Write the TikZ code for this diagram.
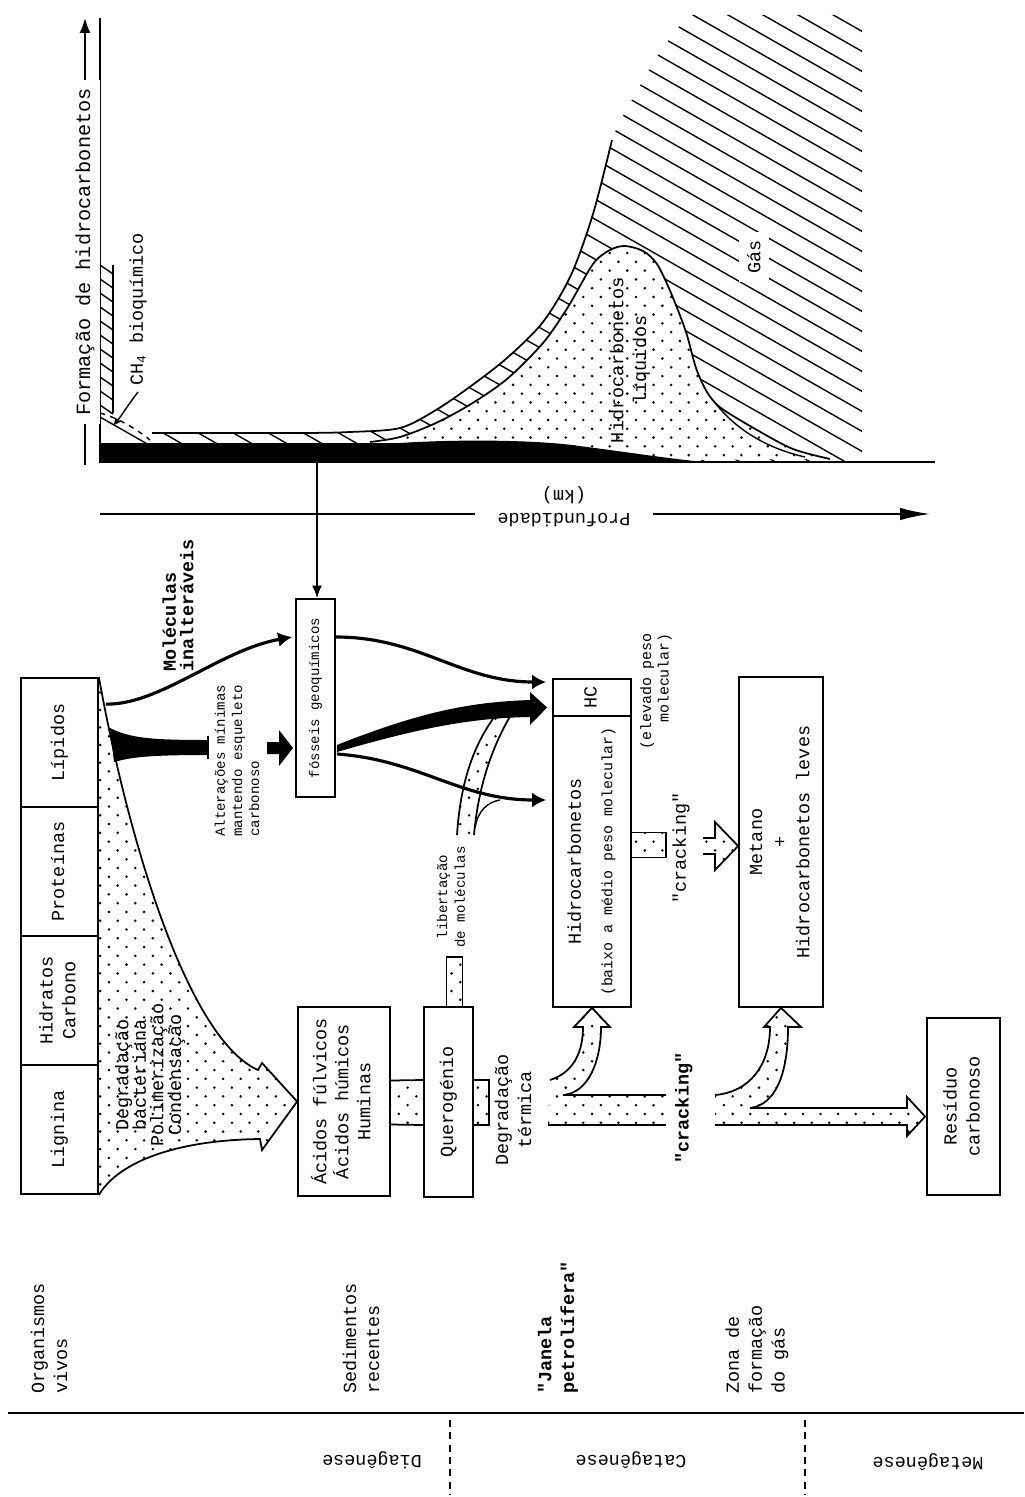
\documentclass[tikz,border=0pt]{standalone}
\usepackage{fontspec}
\setmonofont{Liberation Mono}
\renewcommand{\familydefault}{\ttdefault}
\usepackage{graphicx}
\usetikzlibrary{arrows.meta, calc, patterns}

\pgfdeclarepatternformonly{sparsedots}{\pgfqpoint{-1pt}{-1pt}}{\pgfqpoint{11pt}{11pt}}{\pgfqpoint{10pt}{10pt}}%
{\pgfpathcircle{\pgfqpoint{2pt}{3pt}}{0.8pt}\pgfpathcircle{\pgfqpoint{7pt}{8pt}}{0.8pt}\pgfusepath{fill}}

\newcommand{\vtext}[1]{\rotatebox{90}{\begin{tabular}{@{}c@{}}#1\end{tabular}}}

\tikzset{
  txt/.style={font=\ttfamily\fontsize{10.5}{13}\selectfont},
  box/.style={draw, line width=1pt, inner sep=0pt, txt},
  vlabel/.style={txt, rotate=90, align=center},
  flipped/.style={txt, rotate=180, align=center},
  dotband/.style={pattern=sparsedots},
  rim/.style={line width=1pt},
  flow/.style={line width=1.8pt, -{Latex[length=0.28cm,width=0.3cm]}},
  hatch/.style={line width=0.8pt},
}

\begin{document}
\begin{tikzpicture}[x=0.02cm, y=-0.02cm]
\useasboundingbox (0,0) rectangle (1024,1497);

% ---------------- graph ----------------
% gas
\begin{scope}
  \clip (152,462) -- (152,433) -- plot[smooth] coordinates {(300,433) (350,432) (400,428) (436,410) (471,386) (507,358) (543,322) (571,275) (593,214) (612,140) (632,100) (658,55) (688,15)} -- (862,15) -- (862,462) -- cycle;
  \foreach \k in {-25,...,22}
    \draw[hatch] (0,\k*20) -- (1000,\k*20+570);
\end{scope}

% CH4 bioquimico
\begin{scope}
  \clip (100,462) -- (100,413) .. controls (118,418) and (135,428) .. (150,440) -- (150,462) -- cycle;
  \foreach \k in {-45,...,30}
    \draw[hatch] (0,\k*12) -- (1000,\k*12+570);
\end{scope}
\draw[hatch, dashed] (100,413) .. controls (118,418) and (135,428) .. (150,440);
\draw[rim] (113,265) -- (113,413);
\foreach \y in {265,279,...,405}
  \draw[hatch] (100,\y) -- (113,\y+9);

% liquidos
\fill[white] plot[smooth] coordinates {(370,442) (400,437) (436,423) (471,404) (507,379) (543,343) (568,307) (593,264) (610,250) (625,246) (643,251) (657,264) (671,293) (686,332) (696,368) (707,392) (721,408) (757,430) (793,449) (830,459)} -- (370,462) -- cycle;
\fill[dotband] plot[smooth] coordinates {(370,442) (400,437) (436,423) (471,404) (507,379) (543,343) (568,307) (593,264) (610,250) (625,246) (643,251) (657,264) (671,293) (686,332) (696,368) (707,392) (721,408) (757,430) (793,449) (830,459)} -- (370,462) -- cycle;
\draw[rim] plot[smooth] coordinates {(370,442) (400,437) (436,423) (471,404) (507,379) (543,343) (568,307) (593,264) (610,250) (625,246) (643,251) (657,264) (671,293) (686,332) (696,368) (707,392) (721,408) (757,430) (793,449) (830,459)};
\draw[hatch] (716,404) .. controls (735,428) and (765,448) .. (805,457);

% envelope
\draw[rim] plot[smooth] coordinates {(152,433) (300,433) (350,432) (400,428) (436,410) (471,386) (507,358) (543,322) (571,275) (593,214) (612,140)};

% black band
\fill (100,443) -- (400,443) .. controls (460,439) and (540,440) .. (579,446) .. controls (620,451) and (670,459) .. (705,462) -- (100,462) -- cycle;

% axes
\draw[line width=1.2pt] (100,18) -- (100,462) -- (935,462);
\draw[rim, -{Latex[length=0.3cm,width=0.22cm]}] (85,465) -- (85,18);
\node[vlabel, fill=white, font=\ttfamily\fontsize{11.5}{14}\selectfont, inner xsep=5pt] (formacao) at (85,252) {Formação de hidrocarbonetos};
\draw[rim, -{Latex[length=0.6cm,width=0.25cm]}] (100,514) -- (930,514);
\node[flipped, fill=white, inner xsep=0.45cm] (profund) at (564,507) {Profundidade\\(km)};

\node[vlabel, anchor=west] (ch4) at (138,392) {CH\textsubscript{4} bioquímico};
\draw[hatch, -{Latex[length=0.16cm,width=0.14cm]}] (ch4.west) .. controls (128,405) and (122,415) .. (113,426);
\node[vlabel, fill=white, inner sep=5pt] (gas) at (754,257) {Gás};
\node[vlabel] (liquidos) at (630,360) {Hidrocarbonetos\\líquidos};

% ---------------- boxes ----------------
\node[box, minimum width=1.54cm, minimum height=2.58cm] (lipidos) at (59.5,742.5) {\vtext{Lípidos}};
\node[box, minimum width=1.54cm, minimum height=2.58cm] (proteinas) at (59.5,871.5) {\vtext{Proteínas}};
\node[box, minimum width=1.54cm, minimum height=2.58cm] (hidratos) at (59.5,1000.5) {\vtext{Hidratos\\Carbono}};
\node[box, minimum width=1.54cm, minimum height=2.58cm] (lignina) at (59.5,1129.5) {\vtext{Lignina}};

\node[box, minimum width=0.78cm, minimum height=3.96cm, font=\ttfamily\fontsize{8}{10}\selectfont] (fosseis) at (315.5,698) {\vtext{fósseis geoquímicos}};
\node[box, minimum width=1.84cm, minimum height=3.78cm, font=\ttfamily\fontsize{10.5}{12.5}\selectfont] (acidos) at (344,1101.5) {\vtext{Ácidos fúlvicos\\Ácidos húmicos\\Huminas}};
\node[box, minimum width=0.98cm, minimum height=3.8cm] (querogenio) at (448.5,1102) {\vtext{Querogénio}};
\node[box, minimum width=1.56cm, minimum height=0.74cm] (hcnode) at (592,697.5) {\vtext{HC}};
\node[box, minimum width=1.56cm, minimum height=5.82cm] (hidrocarb) at (592,861.5) {\vtext{Hidrocarbonetos\\[5pt]{\fontsize{8.5}{10}\selectfont(baixo a médio peso molecular)}}};
\node[box, minimum width=1.68cm, minimum height=6.6cm, font=\ttfamily\fontsize{10.5}{13.5}\selectfont] (metano) at (781,842) {\vtext{Metano\\+\\Hidrocarbonetos leves}};
\node[box, minimum width=1.46cm, minimum height=3.54cm] (residuo) at (963.5,1106.5) {\vtext{Resíduo\\carbonoso}};

% ---------------- flows ----------------
\coordinate (graphdrop) at (317,462);
\draw[rim, -{Latex[length=0.25cm,width=0.2cm]}] (graphdrop) -- (graphdrop |- fosseis.north);

% funnel from organisms
\fill[dotband] (lipidos.north east) .. controls (130,850) and (190,1040) .. (258,1070) -- (262,1063) -- (acidos.west) -- (262,1150) -- (260,1139) .. controls (180,1140) and (120,1160) .. (lignina.south east) -- cycle;
\draw[rim] (lipidos.north east) .. controls (130,850) and (190,1040) .. (258,1070) -- (262,1063) -- (acidos.west) -- (262,1150) -- (260,1139) .. controls (180,1140) and (120,1160) .. (lignina.south east);
\node[vlabel, inner sep=1pt, font=\ttfamily\fontsize{10.5}{10}\selectfont] (degrad) at (150,1075) {Degradação\\bacteriana\\Polimerização\\Condensação};

% lipids to fossils
\fill (110,728) .. controls (130,738) and (150,740) .. (208,740) -- (208,755) .. controls (150,755) and (132,757) .. (114,762) -- cycle;
\draw[rim] (208,736) -- (208,759);
\fill (267,742) -- (279,742) -- (279,730) -- (293,748) -- (279,766) -- (279,754) -- (267,754) -- cycle;
\node[vlabel, anchor=west, align=left, font=\ttfamily\fontsize{8}{9.7}\selectfont] (alter) at (237,843) {Alterações mínimas\\mantendo esqueleto\\carbonoso};
\draw[flow] ($(lipidos.north east)+(7,27)$) .. controls (160,705) and (220,650) .. ($(fosseis.west)+(-3,-61)$);
\node[vlabel, anchor=west, align=left, font=\ttfamily\bfseries\fontsize{10.5}{10}\selectfont] (molec) at (178,678) {Moléculas\\inalteráveis};

% release of molecules
\fill[dotband] ($(querogenio.north)+(-2,0)$) rectangle ($(querogenio.north)+(14,-49)$);
\draw[rim] ($(querogenio.north)+(-2,0)$) -- ++(0,-49) -- ++(16,0) -- ++(0,49);
\node[vlabel, font=\ttfamily\fontsize{8}{10}\selectfont] (libert) at (451,897) {libertação\\de moléculas};
\fill[dotband] (457,835) .. controls (460,790) and (470,750) .. (495,716) -- (512,713) .. controls (490,750) and (478,790) .. (474,835) -- cycle;
\draw[rim] (457,835) .. controls (460,790) and (470,750) .. (495,716);
\draw[rim] (512,713) .. controls (490,750) and (478,790) .. (474,835);

% fossils to hydrocarbons
\draw[flow] ($(fosseis.east)+(0,-61)$) .. controls (420,637) and (460,682) .. ($(hcnode.west)+(-6,-15.5)$);
\fill ($(fosseis.east)+(1,47)$) .. controls (420,712) and (470,702) .. (530,700) -- (530,692) -- ($(hcnode.west)+(-5,10)$) -- (530,725) -- (530,717) .. controls (470,718) and (420,728) .. ($(fosseis.east)+(1,54)$) -- cycle;
\draw[flow] ($(fosseis.east)+(1,56)$) .. controls (420,760) and (460,800) .. ($(hidrocarb.west)+(-6,-61.5)$);
\draw[hatch] (475,828) .. controls (478,810) and (488,802) .. (500,800);

% humic to kerogen
\fill[dotband] ($(acidos.east)+(0,-21)$) rectangle ($(querogenio.west)+(0,23)$);
\draw[rim] ($(acidos.east)+(0,-21)$) -- ($(querogenio.west)+(0,-22)$);
\draw[rim] ($(acidos.east)+(0,23)$) -- ($(querogenio.west)+(0,23)$);
\fill[dotband] ($(querogenio.east)+(0,-22)$) rectangle ($(querogenio.east)+(15,23)$);
\draw[rim] ($(querogenio.east)+(0,-22)$) -- ++(15,0) -- ++(0,45) -- ++(-15,0);
\node[vlabel] (degterm) at (513,1110) {Degradação\\térmica};

% thermal cracking band to HC
\fill[dotband] (550,1080) .. controls (575,1072) and (583,1050) .. (583,1027) -- (574,1027) -- (hidrocarb.south) -- (610,1027) -- (601,1027) .. controls (601,1062) and (588,1093) .. (563,1095) -- (666,1095) -- (666,1125) -- (548,1125) -- cycle;
\draw[rim] (550,1080) .. controls (575,1072) and (583,1050) .. (583,1027) -- (574,1027) -- (hidrocarb.south) -- (610,1027) -- (601,1027) .. controls (601,1062) and (588,1093) .. (563,1095) -- (666,1095);
\draw[rim] (548,1125) -- (666,1125);
\node[vlabel, font=\ttfamily\bfseries\fontsize{10.5}{13}\selectfont] (crackb) at (684,1108) {"cracking"};

% cracking band to gas and residue
\fill[dotband] (715,1095) .. controls (750,1092) and (770,1065) .. (770,1027) -- (764,1027) -- (metano.south) -- (801,1027) -- (788,1027) .. controls (788,1075) and (775,1105) .. (750,1108) -- (907,1108) -- (907,1097) -- ($(residuo.west)+(-1,10)$) -- (907,1136) -- (907,1125) -- (715,1125) -- cycle;
\draw[rim] (715,1095) .. controls (750,1092) and (770,1065) .. (770,1027) -- (764,1027) -- (metano.south) -- (801,1027) -- (788,1027) .. controls (788,1075) and (775,1105) .. (750,1108) -- (907,1108) -- (907,1097) -- ($(residuo.west)+(-1,10)$) -- (907,1136) -- (907,1125) -- (715,1125);

% cracking HC to methane
\fill[dotband] ($(hidrocarb.east)+(0,-29)$) rectangle ($(hidrocarb.east)+(34,-4)$);
\draw[rim] ($(hidrocarb.east)+(0,-29)$) -- ++(34,0) -- ++(0,25) -- ++(-34,0);
\fill[dotband] (703,838) -- (715,838) -- (715,822) -- ($(metano.west)+(0,4)$) -- (715,870) -- (715,854) -- (703,854) -- cycle;
\draw[rim] (703,838) -- (715,838) -- (715,822) -- ($(metano.west)+(0,4)$) -- (715,870) -- (715,854) -- (703,854);
\node[vlabel] (cracka) at (681,848) {"cracking"};
\node[vlabel, anchor=east, align=right, font=\ttfamily\fontsize{8.5}{10}\selectfont] (elevado) at (656,627) {(elevado peso\\molecular)};

% ---------------- stages ----------------
\node[vlabel, anchor=west, align=left] (organismos) at (49,1400) {Organismos\\vivos};
\node[vlabel, anchor=west, align=left] (sedimentos) at (361,1400) {Sedimentos\\recentes};
\node[vlabel, anchor=west, align=left, font=\ttfamily\bfseries\fontsize{10.5}{13}\selectfont] (janela) at (558,1400) {"Janela\\petrolífera"};
\node[vlabel, anchor=west, align=left] (zona) at (757,1400) {Zona de\\formação\\do gás};

\draw[rim] (8,1413) -- (1024,1413);
\draw[rim, dash pattern=on 4pt off 3pt] (450,1420) -- (450,1495);
\draw[rim, dash pattern=on 4pt off 3pt] (805,1420) -- (805,1495);
\node[flipped] (diag) at (372,1460) {Diagênese};
\node[flipped] (catag) at (631,1460) {Catagênese};
\node[flipped] (metag) at (928,1462) {Metagênese};

\end{tikzpicture}
\end{document}
